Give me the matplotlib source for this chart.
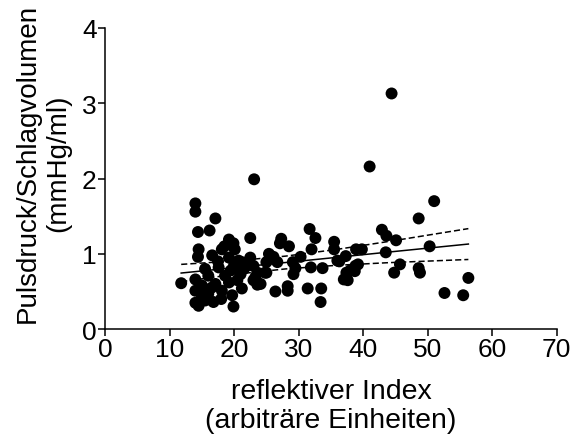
import numpy as np
import matplotlib.pyplot as plt

plt.rcParams['font.family'] = ['Liberation Sans', 'DejaVu Sans']

# scatter data
ref_index = [44.4, 41.0, 23.1, 51.0, 14.0, 14.0, 17.1, 48.6, 14.4, 16.2, 22.5, 31.7, 32.6,
             42.9, 43.6, 45.1, 35.5, 27.3, 27.1, 28.5, 19.2, 19.9, 18.5, 20.1, 14.5, 14.4,
             32.0, 35.5, 38.9, 39.8, 50.3, 43.5, 37.3, 36.3, 30.3, 29.1, 29.5, 29.2, 31.9,
             33.7, 39.2, 38.7, 37.4, 37.0, 37.6, 45.7, 44.8, 48.6, 48.8, 56.3, 52.6, 55.5,
             31.4, 33.5, 33.4, 26.4, 28.3, 28.3, 25.4, 26.1, 26.7, 25.0, 25.0, 23.6, 23.0,
             23.0, 23.6, 21.2, 21.2, 19.9, 19.7, 11.8,
             16.6, 18.1, 19.2, 20.7, 22.0, 24.8, 17.6, 16.0, 14.0, 15.0, 17.1, 19.2, 14.0,
             14.0, 15.5, 14.5, 16.0, 18.1, 23.3, 18.6, 21.0,
             38.0, 38.8, 24.1, 36.0,
             20.0, 19.5, 21.5, 15.5, 16.5, 18.0, 20.5, 15.0, 17.5, 22.5, 16.8]
pp_sv = [3.13, 2.16, 1.99, 1.70, 1.67, 1.56, 1.47, 1.47, 1.29, 1.31, 1.21, 1.33, 1.21,
         1.32, 1.24, 1.18, 1.16, 1.20, 1.14, 1.10, 1.19, 1.14, 1.10, 1.06, 1.06, 0.96,
         1.06, 1.06, 1.06, 1.06, 1.10, 1.02, 0.97, 0.90, 0.96, 0.89, 0.81, 0.73, 0.82,
         0.81, 0.86, 0.77, 0.75, 0.66, 0.65, 0.86, 0.75, 0.81, 0.75, 0.68, 0.48, 0.45,
         0.54, 0.54, 0.36, 0.50, 0.57, 0.51, 1.00, 0.96, 0.89, 0.89, 0.75, 0.59, 0.65,
         0.84, 0.75, 0.89, 0.54, 0.30, 0.45, 0.61,
         0.98, 1.06, 0.95, 0.91, 0.84, 0.75, 0.82, 0.71, 0.66, 0.58, 0.60, 0.62, 0.51,
         0.35, 0.38, 0.31, 0.47, 0.51, 0.69, 0.71, 0.73,
         0.78, 0.84, 0.60, 0.91,
         0.85, 0.78, 0.80, 0.80, 0.55, 0.40, 0.65, 0.45, 0.90, 0.95, 0.36]

# regression line and 95% band
fit_x = [11.8, 20, 28, 36, 44, 56.3]
fit_y = [0.745, 0.816, 0.885, 0.954, 1.024, 1.13]
ci_upper = [0.86, 0.905, 0.97, 1.06, 1.165, 1.335]
ci_lower = [0.63, 0.727, 0.80, 0.848, 0.883, 0.925]

fig = plt.figure(figsize=(5.74, 4.39), dpi=100)
ax = fig.add_axes([0.183, 0.248, 0.787, 0.686])

ax.scatter(ref_index, pp_sv, s=74, color='black', edgecolors='none', zorder=3)
ax.plot(fit_x, fit_y, color='black', lw=1.1, zorder=4)
ax.plot(fit_x, ci_upper, color='black', lw=1.1, ls=(0, (4, 2)), zorder=4)
ax.plot(fit_x, ci_lower, color='black', lw=1.1, ls=(0, (4, 2)), zorder=4)

ax.set_xlim(0, 70)
ax.set_ylim(0, 4)
ax.set_xticks([0, 10, 20, 30, 40, 50, 60, 70])
ax.set_yticks([0, 1, 2, 3, 4])
ax.spines['top'].set_visible(False)
ax.spines['right'].set_visible(False)
for s in ['left', 'bottom']:
    ax.spines[s].set_linewidth(1.1)
ax.tick_params(direction='out', length=5, width=1.1, labelsize=19, pad=1)

ax.set_xlabel('reflektiver Index\n(arbiträre Einheiten)', fontsize=20.5, linespacing=1.15, labelpad=12)
ax.set_ylabel('Pulsdruck/Schlagvolumen\n(mmHg/ml)', fontsize=20, linespacing=1.2)
ax.yaxis.set_label_coords(-0.075, 0.555)

plt.savefig('out.png', dpi=100)
